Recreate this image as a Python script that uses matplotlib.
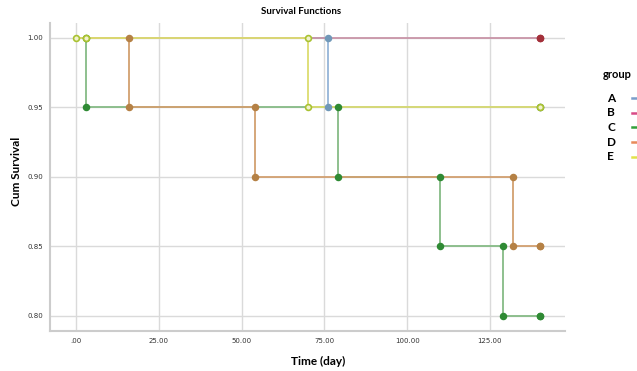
import matplotlib
matplotlib.use("Agg")
import matplotlib.pyplot as plt
from matplotlib.lines import Line2D

# ---- data ----
groups = ["A", "B", "C", "D", "E"]
times_A = [0, 76, 140]
surv_A = [1.00, 0.95, 0.95]
times_B = [0, 140]
surv_B = [1.00, 1.00]
times_C = [0, 3, 79, 110, 129, 140]
surv_C = [1.00, 0.95, 0.90, 0.85, 0.80, 0.80]
times_D = [0, 16, 54, 132, 140]
surv_D = [1.00, 0.95, 0.90, 0.85, 0.85]
times_E = [0, 3, 70, 140]
surv_E = [1.00, 1.00, 0.95, 0.95]

x_ticks = [0, 25, 50, 75, 100, 125]
x_tick_labels = [".00", "25.00", "50.00", "75.00", "100.00", "125.00"]
y_ticks = [0.80, 0.85, 0.90, 0.95, 1.00]
y_tick_labels = ["0.80", "0.85", "0.90", "0.95", "1.00"]

series = {"A": (times_A, surv_A), "B": (times_B, surv_B), "C": (times_C, surv_C),
          "D": (times_D, surv_D), "E": (times_E, surv_E)}

line_colors = {"A": "#94b4d8", "B": "#c995a8", "C": "#86bb86", "D": "#d2a070", "E": "#dcdc70"}
mark_edge = {"A": "#7098b8", "B": "#a3303a", "C": "#2f8a34", "D": "#b58145", "E": "#a9c232"}
mark_face = {"A": "#7098b8", "B": "#a3303a", "C": "#2f8a34", "D": "#b58145", "E": "#f2f2cc"}
legend_colors = {"A": "#7b9dca", "B": "#d84a86", "C": "#32a03a", "D": "#e88a5a", "E": "#e2e24a"}

W, H = 637, 371
fig = plt.figure(figsize=(6.37, 3.71), dpi=100)
ax = fig.add_axes([0.0785, 0.108, 0.8085, 0.83])

for g in groups:
    t, s = series[g]
    ax.step(t, s, where="post", color=line_colors[g], lw=1.3, zorder=3)
    mx, my = [], []
    for i in range(1, len(t)):
        mx += [t[i], t[i]]
        my += [s[i - 1], s[i]]
    if g == "E":
        mx.insert(0, t[0]); my.insert(0, s[0])
    ax.plot(mx, my, ls="none", marker="o", ms=4.2, mec=mark_edge[g], mfc=mark_face[g],
            mew=1.2, zorder=4)

ax.set_xlim(-7.9, 147.7)
ax.set_ylim(0.789, 1.0108)
ax.set_xticks(x_ticks)
ax.set_xticklabels(x_tick_labels)
ax.set_yticks(y_ticks)
ax.set_yticklabels(y_tick_labels)
ax.tick_params(length=0, labelsize=5, colors="#333333", pad=5)
ax.grid(True, color="#dadada", lw=1.0, zorder=0)
ax.set_axisbelow(True)
for sp in ["top", "right"]:
    ax.spines[sp].set_visible(False)
for sp in ["left", "bottom"]:
    ax.spines[sp].set_color("#cccccc")
    ax.spines[sp].set_linewidth(1.5)

lab = dict(family=["Lato", "DejaVu Sans"], fontweight="bold")
fig.text(301 / W, 1 - 12 / H, "Survival Functions", ha="center", va="center", fontsize=7, **lab)
fig.text(318 / W, 1 - 361 / H, "Time (day)", ha="center", va="center", fontsize=8.5, **lab)
fig.text(16 / W, 1 - 171 / H, "Cum Survival", ha="center", va="center", fontsize=8.5,
         rotation=90, **lab)

# legend
fig.text(603 / W, 1 - 74 / H, "group", fontsize=8, ha="left", va="center", **lab)
ys = [98, 113, 127, 142, 157]
for g, y in zip(groups, ys):
    fig.text(607 / W, 1 - y / H, g, fontsize=8.5, ha="left", va="center", **lab)
    fig.add_artist(Line2D([632 / W, 642 / W], [1 - y / H, 1 - y / H], color=legend_colors[g],
                          lw=1.8, transform=fig.transFigure))

fig.savefig("out.png", dpi=100)
